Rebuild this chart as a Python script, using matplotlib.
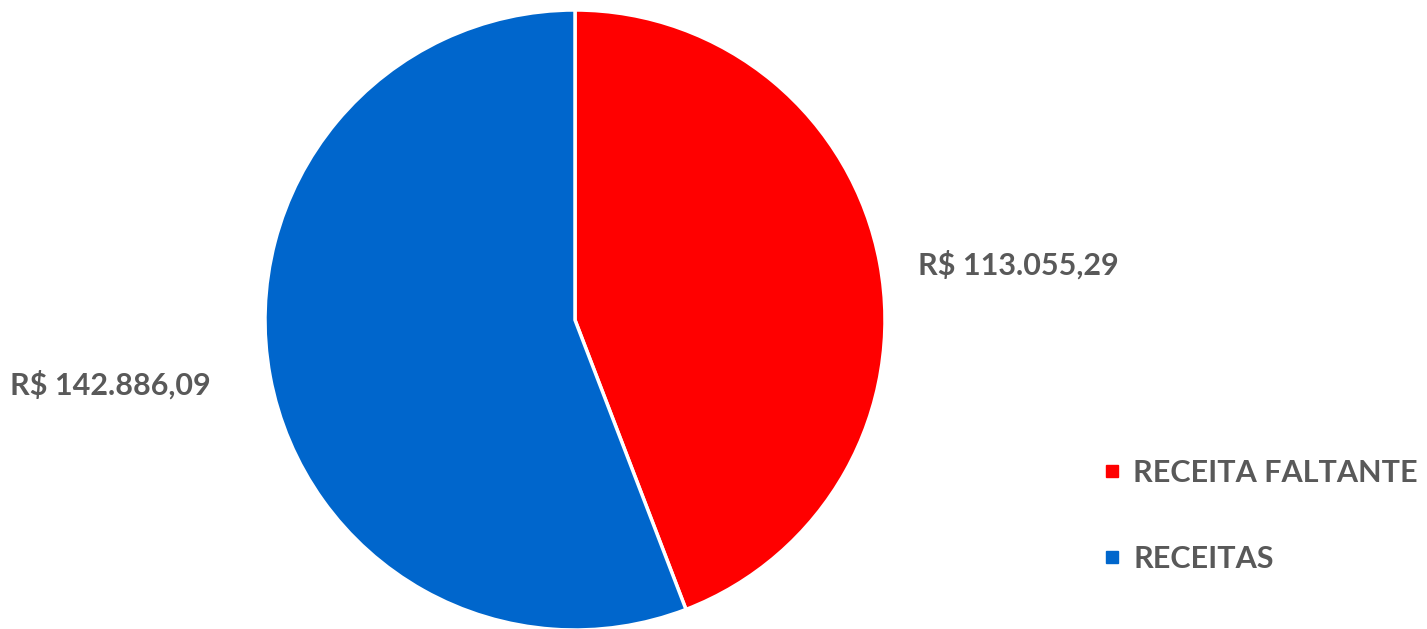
import matplotlib

matplotlib.use("Agg")
import matplotlib.pyplot as plt
from matplotlib.lines import Line2D

categories = ["RECEITA FALTANTE", "RECEITAS"]
values = [113055.29, 142886.09]
colors = ["#FF0000", "#0066CC"]
text_color = "#595959"


def brl(v):
    s = f"{v:,.2f}".replace(",", "X").replace(".", ",").replace("X", ".")
    return f"R$ {s}"


W, H = 1427, 629
fig = plt.figure(figsize=(W / 100, H / 100), dpi=100)
ax = fig.add_axes([0, 0, 1, 1])
ax.set_xlim(0, W)
ax.set_ylim(0, H)
ax.set_aspect("equal")
ax.axis("off")

cx, cy, r = 575, H - 320, 310
wedges, _ = ax.pie(values, colors=colors, startangle=90, counterclock=False,
                   center=(cx, cy), radius=r,
                   wedgeprops=dict(edgecolor="white", linewidth=2.5))
ax.set_xlim(0, W)
ax.set_ylim(0, H)

font = dict(family="Lato", fontweight="bold", color=text_color, fontsize=22)
ax.text(918, H - 265, brl(values[0]), ha="left", va="center", **font)
ax.text(10, H - 385, brl(values[1]), ha="left", va="center", **font)

handles = [Line2D([0], [0], marker="s", linestyle="", markersize=8,
                  markerfacecolor=c, markeredgecolor=c) for c in colors]
leg = ax.legend(handles, categories, loc="upper left",
                bbox_to_anchor=(1072 / W, (H - 431) / H), frameon=False,
                handletextpad=0.3, labelspacing=1.9, handlelength=0.8,
                prop=dict(family="Lato", weight="bold", size=22))
for t in leg.get_texts():
    t.set_color(text_color)

fig.savefig("out.png", dpi=100)
